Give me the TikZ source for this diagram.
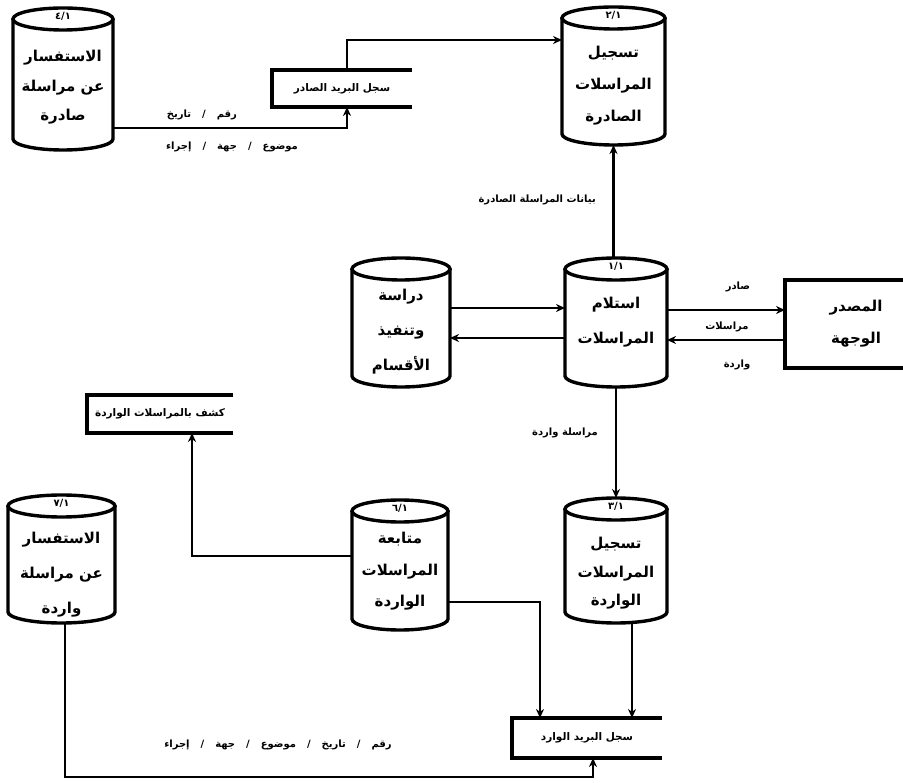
\documentclass[tikz,border=0pt]{standalone}
\usepackage{fontspec}
\usetikzlibrary{arrows.meta}
\TeXXeTstate=1
\newfontfamily\arfont[Script=Arabic]{DejaVu Sans}
\newcommand{\ar}[1]{\beginR #1\endR}
\newcommand{\ery}{11pt}
\newcommand{\sep}{\hspace{11pt}/\hspace{11pt}}

\tikzset{
  cylbody/.style={rectangle, draw=none, inner sep=0pt, outer sep=0pt},
  cylline/.style={line width=3.4pt, black},
  numlbl/.style={font=\arfont\bfseries\fontsize{10}{10}\selectfont, inner sep=0pt},
  cyltext/.style={align=center, inner sep=0pt},
  storebox/.style={rectangle, draw=none, inner sep=0pt, outer sep=0pt, font=\arfont\bfseries\fontsize{10.5}{12}\selectfont},
  storeline/.style={line width=3.4pt},
  flow/.style={line width=2.7pt, -{Stealth[length=9pt,width=8pt]}},
  lbl/.style={font=\arfont\bfseries\fontsize{10}{12}\selectfont, inner sep=1pt},
  entity/.style={rectangle, draw, line width=3.4pt, inner sep=0pt, outer sep=0pt, align=center,
                 font=\arfont\bfseries\fontsize{15}{32}\selectfont},
}

% name, cx, cy, w, h, number, text yshift, baselineskip, text
\newcommand{\cylnd}[9]{%
  \node[cylbody, minimum width=#4pt, minimum height=#5pt] (#1) at (#2pt,-#3pt) {};
  \draw[cylline] ([yshift=-\ery]#1.north west) -- ([yshift=\ery]#1.south west)
     arc[start angle=180, end angle=360, x radius=#4pt/2, y radius=\ery]
     -- ([yshift=-\ery]#1.north east);
  \draw[cylline] ([yshift=-\ery]#1.north) ellipse[x radius=#4pt/2, y radius=\ery];
  \node[numlbl] at ([yshift=-8pt]#1.north) {#6};
  \node[cyltext, font=\arfont\bfseries\fontsize{15}{#8}\selectfont] at ([yshift=#7pt]#1.center) {#9};
}

% name, cx, cy, w, h, text
\newcommand{\storend}[6]{%
  \node[storebox, minimum width=#4pt, minimum height=#5pt] (#1) at (#2pt,-#3pt) {#6};
  \draw[storeline] (#1.north east) -- (#1.north west) -- (#1.south west) -- (#1.south east);
}

\begin{document}
\begin{tikzpicture}[x=1pt,y=1pt]
\useasboundingbox (0,0) rectangle (903,-783);
\clip (0,0) rectangle (903,-783);
\fill[white] (0,0) rectangle (903,-783);

% cylinders
\cylnd{c41}{63}{79}{100}{142}{٤/١}{-8.5}{29.5}{\ar{الاستفسار}\\\ar{عن مراسلة}\\\ar{صادرة}}
\cylnd{c21}{613.5}{76}{103}{138}{٢/١}{-10}{32}{\ar{تسجيل}\\\ar{المراسلات}\\\ar{الصادرة}}
\cylnd{cD}{401}{322.5}{98}{129}{}{-9.5}{35}{\ar{دراسة}\\\ar{وتنفيذ}\\\ar{الأقسام}}
\cylnd{c11}{616}{322.5}{102}{129}{١/١}{0}{35}{\ar{استلام}\\\ar{المراسلات}}
\cylnd{c61}{400}{565}{96}{130}{٦/١}{-6.5}{31.5}{\ar{متابعة}\\\ar{المراسلات}\\\ar{الواردة}}
\cylnd{c31}{616}{560.5}{102}{125}{٣/١}{-13}{28.5}{\ar{تسجيل}\\\ar{المراسلات}\\\ar{الواردة}}
\cylnd{c71}{61.5}{559}{107}{128}{٧/١}{-16}{35}{\ar{الاستفسار}\\\ar{عن مراسلة}\\\ar{واردة}}

% data stores (open on the right)
\storend{s1}{342}{88.5}{140}{37}{\beginR سجل البريد الصادر\endR}
\storend{kashf}{160}{414}{146}{38}{\beginR كشف بالمراسلات الواردة\endR}
\storend{sIn}{587}{738}{150}{40}{\beginR سجل البريد الوارد\endR}

% external entity
\node[entity, minimum width=142pt, minimum height=88pt] (src) at (856pt,-324pt) {\ar{المصدر}\\\ar{الوجهة}};

% flows
\draw[flow] ([yshift=-49pt]c41.east) -| ([xshift=5pt]s1.south);
\draw[flow] ([xshift=5pt]s1.north) |- ([yshift=36pt]c21.west);
\draw[flow] (c11.north -| c21.south) -- (c21.south);
\draw[flow] ([yshift=14.5pt]cD.east) -- ([yshift=14.5pt]c11.west);
\draw[flow] ([yshift=-15.5pt]c11.west) -- ([yshift=-15.5pt]cD.east);
\draw[flow] ([yshift=12.5pt]c11.east) -- ([yshift=14pt]src.west);
\draw[flow] ([yshift=-16pt]src.west) -- ([yshift=-17.5pt]c11.east);
\draw[flow] (c11.south) -- (c31.north);
\draw[flow] ([yshift=9pt]c61.west) -| ([xshift=32pt]kashf.south);
\draw[flow] ([yshift=-37pt]c61.east) -| ([xshift=-47pt]sIn.north);
\draw[flow] ([xshift=16pt]c31.south) -- ([xshift=45pt]sIn.north);
\coordinate (bl) at (65,-777);
\draw[flow] ([xshift=3.5pt]c71.south) -- (bl) -| ([xshift=6pt]sIn.south);

% flow labels
\node[lbl] (l1) at (202,-115) {\ar{رقم\sep تاريخ}};
\node[lbl] (l2) at (232,-147) {\ar{موضوع\sep جهة\sep إجراء}};
\node[lbl, anchor=east] (l3) at (597,-200) {\ar{بيانات المراسلة الصادرة}};
\node[lbl] (l4) at (738,-287) {\ar{صادر}};
\node[lbl] (l5) at (727,-327) {\ar{مراسلات}};
\node[lbl] (l6) at (737,-365) {\ar{واردة}};
\node[lbl] (l7) at (565,-433) {\ar{مراسلة واردة}};
\node[lbl] (l8) at (278,-745) {\ar{رقم\sep تاريخ\sep موضوع\sep جهة\sep إجراء}};
\end{tikzpicture}
\end{document}
